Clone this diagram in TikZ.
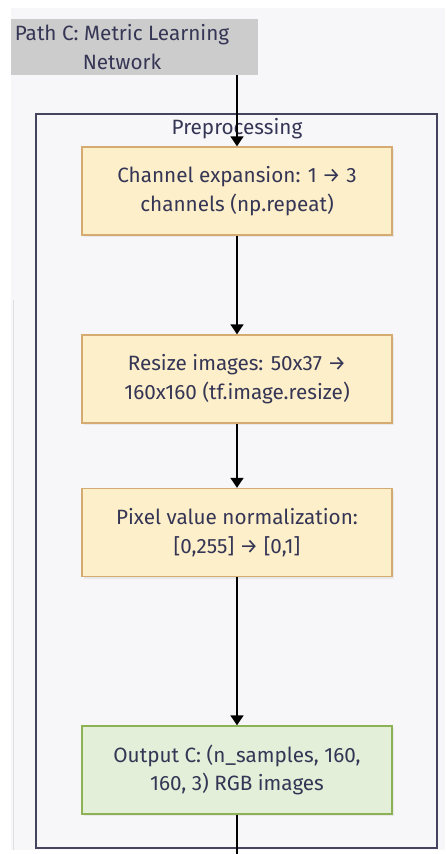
\documentclass[tikz,border=0pt]{standalone}
\usepackage{fontspec}
\setmainfont{Fira Sans}
\usetikzlibrary{arrows.meta,shadows}
\definecolor{canvas}{HTML}{F7F7FA}
\definecolor{sourcegray}{HTML}{CCCCCC}
\definecolor{framecol}{HTML}{44445F}
\definecolor{stepfill}{HTML}{FDEFC9}
\definecolor{stepline}{HTML}{D5AB72}
\definecolor{outfill}{HTML}{E3EFD8}
\definecolor{outline}{HTML}{8DB255}
\definecolor{txt}{HTML}{353555}
\tikzset{
  x=1pt, y=-1pt,
  label font/.style={text=txt, font=\fontsize{20.7}{28.5}\selectfont},
  stepbox/.style={draw=stepline, fill=stepfill, line width=1.4pt,
    minimum width=310pt, minimum height=88pt, inner sep=0pt,
    align=center, label font,
    drop shadow={shadow xshift=1.5pt, shadow yshift=-2pt, opacity=0.12}},
  outbox/.style={stepbox, draw=outline, fill=outfill},
  flow/.style={line width=1.8pt, -{Triangle[length=10pt,width=13pt]}},
}
\begin{document}
\begin{tikzpicture}
\useasboundingbox (0,0) rectangle (445,854);
\fill[white] (0,0) rectangle (445,854);
\fill[canvas] (11,8) rectangle (445,850);
\draw[gray!25, line width=1pt] (13,300) -- (13,850);

% source node
\fill[sourcegray] (11,19) rectangle (258,75);
\node[label font, align=center] (src) at (122,47)
  {Path C: Metric Learning\\Network};
\coordinate (srcbot) at (237,75);

% preprocessing cluster
\draw[framecol, line width=2.6pt, fill=canvas] (36,114) rectangle (437,848);
\node[label font] (cl) at (237,129) {Preprocessing};

% steps
\node[stepbox] (s1) at (237,191) {Channel expansion: 1 → 3\\channels (np.repeat)};
\node[stepbox] (s2) at (237,379) {Resize images: 50x37 →\\160x160 (tf.image.resize)};
\node[stepbox] (s3) at (237,532.5) {Pixel value normalization:\\{[0,255]} → [0,1]};
\node[outbox] (s4) at (237,770) {Output C: (n\_samples, 160,\\160, 3) RGB images};
\coordinate (exit) at (237,860);

\draw[flow] (srcbot) -- (s1.north);
\draw[flow] (s1) -- (s2);
\draw[flow] (s2) -- (s3);
\draw[flow] (s3) -- (s4);
\draw[line width=1.8pt] (s4.south) -- (exit);
\end{tikzpicture}
\end{document}
